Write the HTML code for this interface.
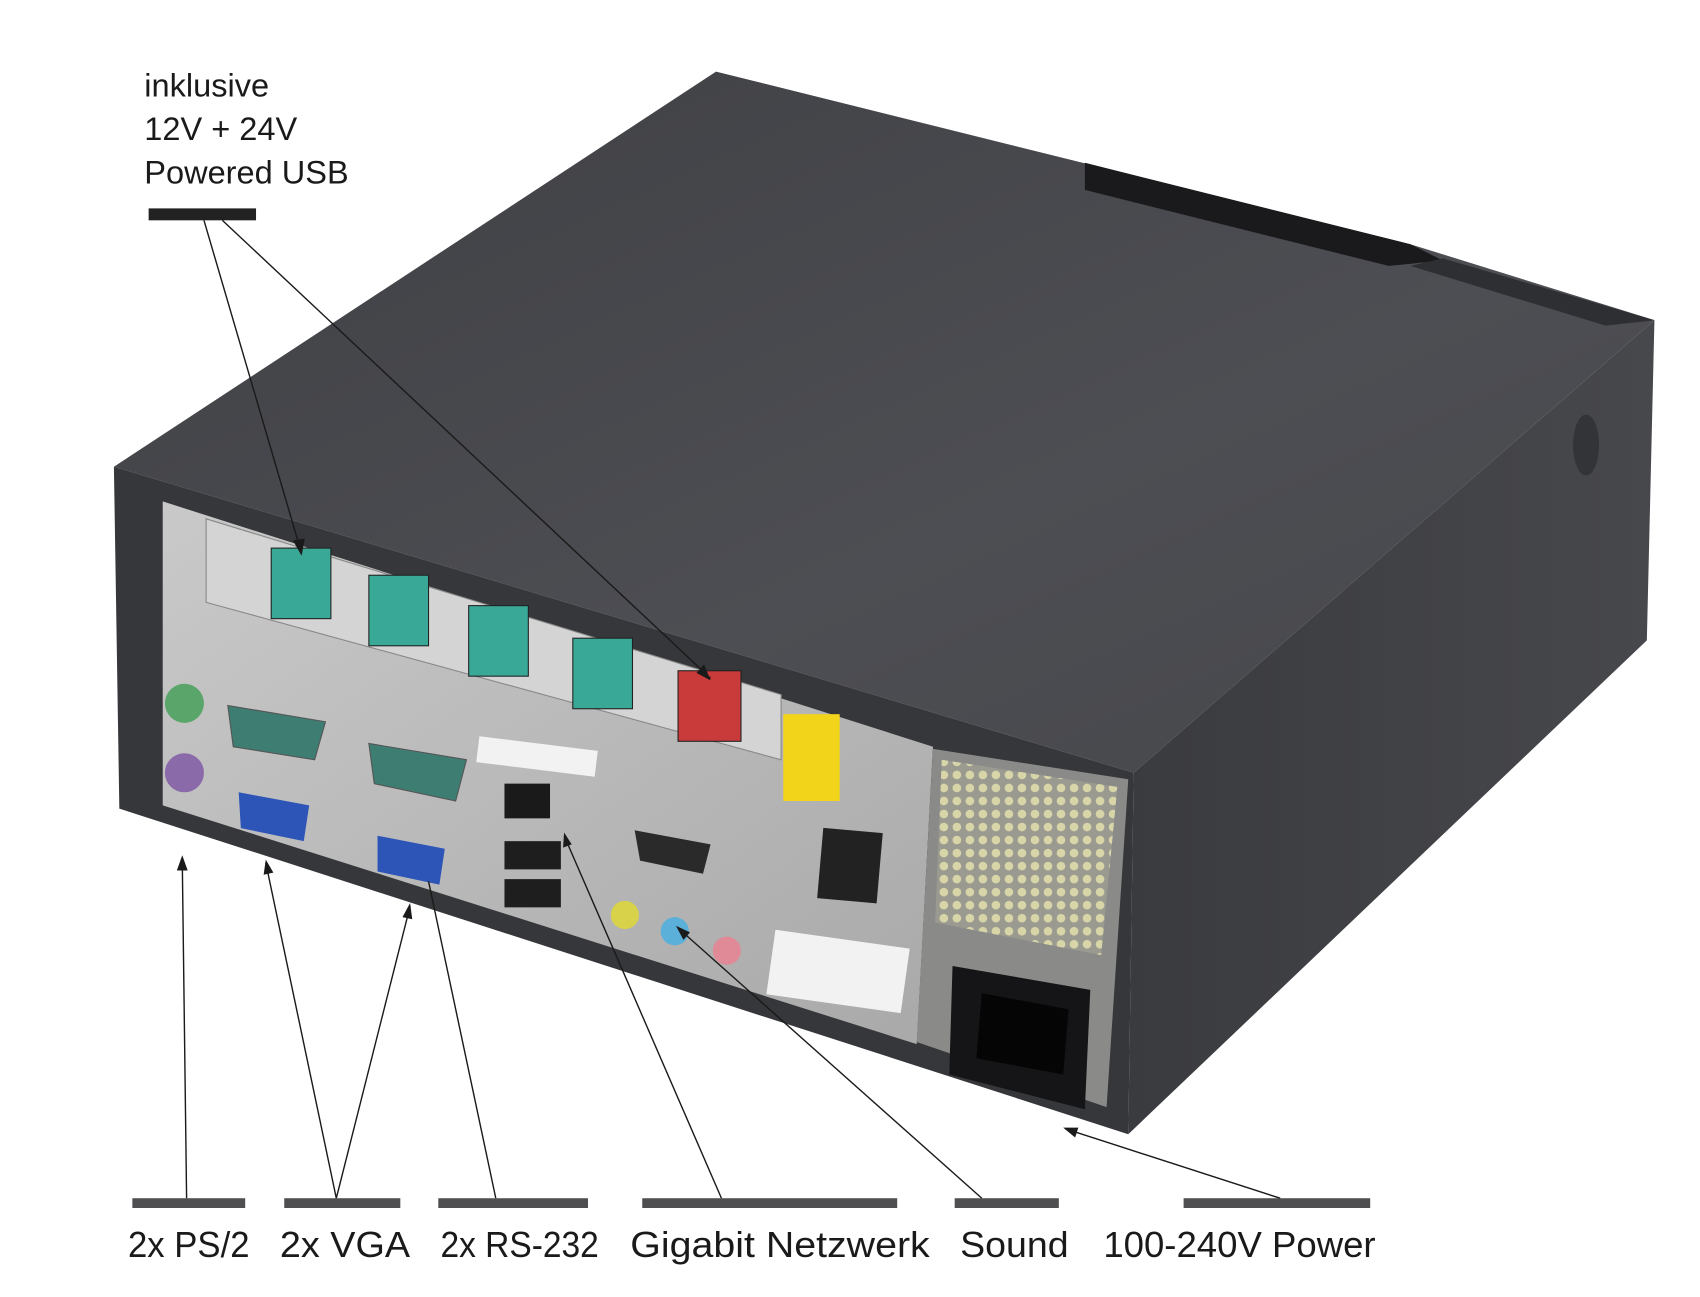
<!DOCTYPE html>
<html><head><meta charset="utf-8"><style>
html,body{margin:0;padding:0;background:#fff;}
svg{display:block;}
text{font-family:"Liberation Sans",sans-serif;fill:#1a1a1a;}
</style></head><body>
<svg width="1700" height="1297" viewBox="0 0 1567 1195" preserveAspectRatio="none" xmlns="http://www.w3.org/2000/svg">
<defs>
<linearGradient id="top" x1="0" y1="0" x2="1" y2="1">
<stop offset="0" stop-color="#3e3f43"/><stop offset="0.6" stop-color="#4d4e53"/><stop offset="1" stop-color="#45464a"/>
</linearGradient>
<linearGradient id="side" x1="0" y1="0" x2="1" y2="0">
<stop offset="0" stop-color="#3a3b3f"/><stop offset="1" stop-color="#47484c"/>
</linearGradient>
<linearGradient id="metal" x1="0" y1="0" x2="1" y2="1">
<stop offset="0" stop-color="#c9c9c9"/><stop offset="1" stop-color="#a9a9a9"/>
</linearGradient>
<pattern id="grill" width="12" height="12" patternUnits="userSpaceOnUse">
<rect width="12" height="12" fill="#9a9a90"/><circle cx="6" cy="6" r="4" fill="#d8d6a8"/>
</pattern>
</defs>
<polygon points="105,430 660,66 1300,225 1525,295 1045,712" fill="url(#top)"/>
<polygon points="1000,150 1300,225 1330,240 1280,245 1000,175" fill="#1a1a1c"/>
<polygon points="1330,238 1525,295 1480,300 1300,245" fill="#2e2f33"/>
<polygon points="1045,712 1525,295 1518,590 1040,1045" fill="url(#side)"/>
<ellipse cx="1462" cy="410" rx="12" ry="28" fill="#333438"/>
<polygon points="105,430 1045,712 1040,1045 110,745" fill="#36373a"/>
<polygon points="150,462 860,688 845,962 150,742" fill="url(#metal)"/>
<polygon points="190,478 720,640 720,700 190,555" fill="#d4d4d4" stroke="#888" stroke-width="1"/>
<polygon points="860,690 1040,718 1020,1020 845,960" fill="#8a8a88"/>
<polygon points="868,700 1030,725 1015,880 862,850" fill="url(#grill)"/>
<polygon points="878,890 1005,912 1000,1022 875,990" fill="#151517"/>
<polygon points="905,915 985,930 980,990 900,975" fill="#050505"/>
<g fill="#3aa897" stroke="#222" stroke-width="1">
<rect x="250" y="505" width="55" height="65"/><rect x="340" y="530" width="55" height="65"/>
<rect x="432" y="558" width="55" height="65"/><rect x="528" y="588" width="55" height="65"/>
</g>
<rect x="625" y="618" width="58" height="65" fill="#c93a3a" stroke="#222"/>
<circle cx="170" cy="648" r="18" fill="#5aa56a"/>
<circle cx="170" cy="712" r="18" fill="#8a6aa8"/>
<polygon points="210,650 300,665 290,700 215,688" fill="#3d7d72" stroke="#555"/>
<polygon points="340,685 430,700 420,738 345,722" fill="#3d7d72" stroke="#555"/>
<polygon points="220,730 285,742 280,775 222,763" fill="#2d55b8"/>
<polygon points="348,770 410,782 405,815 348,803" fill="#2d55b8"/>
<polygon points="585,765 655,778 648,805 590,793" fill="#2a2a2a"/>
<rect x="440" y="685" width="110" height="24" fill="#f2f2f2" transform="rotate(7 495 697)"/>
<rect x="710" y="865" width="125" height="60" fill="#f2f2f2" transform="rotate(8 772 895)"/>
<rect x="722" y="658" width="52" height="80" fill="#f2d41a"/>
<rect x="465" y="722" width="42" height="32" fill="#1a1a1a"/>
<rect x="465" y="775" width="52" height="26" fill="#1e1e1e"/>
<rect x="465" y="810" width="52" height="26" fill="#1e1e1e"/>
<rect x="756" y="765" width="55" height="65" fill="#222" transform="rotate(5 783 797)"/>
<circle cx="576" cy="843" r="13" fill="#d8d24a"/>
<circle cx="622" cy="858" r="13" fill="#5ab0d8"/>
<circle cx="670" cy="876" r="13" fill="#e08a98"/>
<text x="133" y="89" font-size="30">inklusive</text>
<text x="133" y="129" font-size="30">12V + 24V</text>
<text x="133" y="169" font-size="30">Powered USB</text>
<rect x="137" y="192" width="99" height="11" fill="#222"/>
<g stroke="#1a1a1a" stroke-width="1.3" fill="none">
<line x1="188" y1="203" x2="278" y2="510"/>
<line x1="205" y1="203" x2="655" y2="625"/>
<line x1="172" y1="1104" x2="168" y2="792"/>
<line x1="310" y1="1104" x2="245" y2="795"/>
<line x1="310" y1="1104" x2="378" y2="835"/>
<line x1="457" y1="1104" x2="395" y2="812"/>
<line x1="665" y1="1104" x2="520" y2="770"/>
<line x1="905" y1="1104" x2="625" y2="855"/>
<line x1="1180" y1="1104" x2="982" y2="1040"/>
</g>
<g fill="#1a1a1a">
<polygon points="278,512 270,498 281,496"/>
<polygon points="655,627 642,620 649,612"/>
<polygon points="168,788 163,802 173,802"/>
<polygon points="245,792 243,806 252,804"/>
<polygon points="378,832 371,845 380,847"/>
<polygon points="520,767 519,781 527,778"/>
<polygon points="623,853 630,866 636,859"/>
<polygon points="980,1039 994,1039 991,1048"/>
</g>
<g fill="#4f4e50">
<rect x="122" y="1104" width="104" height="9"/>
<rect x="262" y="1104" width="107" height="9"/>
<rect x="404" y="1104" width="138" height="9"/>
<rect x="592" y="1104" width="235" height="9"/>
<rect x="880" y="1104" width="96" height="9"/>
<rect x="1091" y="1104" width="172" height="9"/>
</g>
<g font-size="33">
<text x="118" y="1158" textLength="112" lengthAdjust="spacingAndGlyphs">2x PS/2</text>
<text x="258" y="1158" textLength="120" lengthAdjust="spacingAndGlyphs">2x VGA</text>
<text x="406" y="1158" textLength="146" lengthAdjust="spacingAndGlyphs">2x RS-232</text>
<text x="581" y="1158" textLength="276" lengthAdjust="spacingAndGlyphs">Gigabit Netzwerk</text>
<text x="885" y="1158" textLength="100" lengthAdjust="spacingAndGlyphs">Sound</text>
<text x="1017" y="1158" textLength="251" lengthAdjust="spacingAndGlyphs">100-240V Power</text>
</g>
</svg>
</body></html>
